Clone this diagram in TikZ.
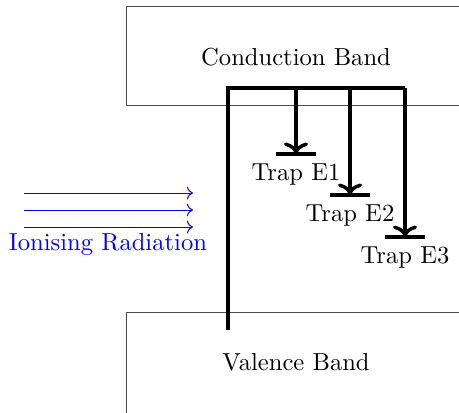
\documentclass[tikz,border=0pt]{standalone}
\usepackage{tikz}
\usetikzlibrary{arrows.meta, positioning, calc}

\tikzset{
  band/.style={draw=black!70, thin},
  trapbar/.style={line width=1.4pt},
  transition/.style={line width=1.4pt, ->},
  radiation/.style={blue, ->},
}

\begin{document}
\begin{tikzpicture}
    \useasboundingbox (0,0) rectangle (6.557,-5.886);

    % Bands
    \draw[band] (1.8,-0.086) rectangle (6.66,-1.514);
    \node (cb) at (4.229,-0.814) {Conduction Band};
    \draw[band] (1.8,-4.457) rectangle (6.66,-5.9);
    \node (vb) at (4.229,-5.171) {Valence Band};

    % Excitation path
    \coordinate (start) at (3.257,-4.714);
    \coordinate (top) at (3.257,-1.257);
    \coordinate (topend) at (5.786,-1.257);
    \draw[line width=1.4pt] (start) -- (top) -- (topend);

    % Traps
    \foreach \n/\x/\y in {1/4.229/-2.2, 2/5.0/-2.786, 3/5.786/-3.386} {
      \coordinate (trap\n) at (\x,\y);
      \draw[trapbar] ($(trap\n)+(-0.286,0)$) -- ($(trap\n)+(0.286,0)$);
      \node[below=0.02cm of trap\n] (lab\n) {Trap E\n};
      \draw[transition] (trap\n |- top) -- (trap\n);
    }

    % Radiation
    \foreach \y in {-2.757,-3.0,-3.243} {
      \coordinate (rs) at (0.343,\y);
      \coordinate (re) at (2.757,\y);
      \draw[radiation] (rs) -- (re);
    }
    \node[blue] (rad) at (1.543,-3.486) {Ionising Radiation};
  \end{tikzpicture}
\end{document}
